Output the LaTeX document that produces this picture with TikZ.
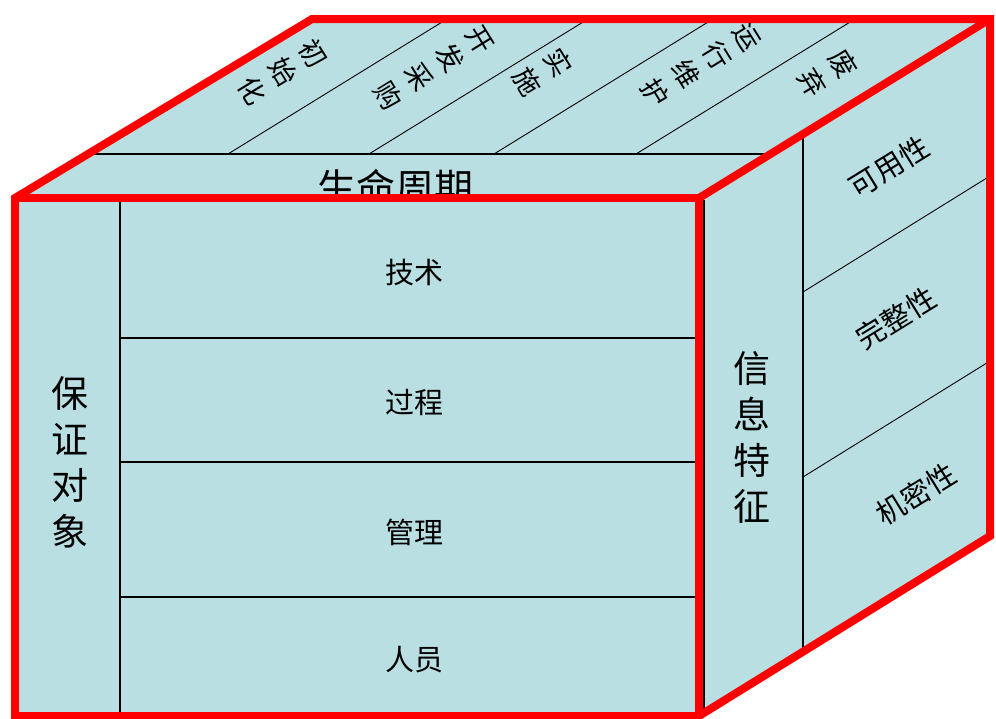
\documentclass[tikz,border=0pt]{standalone}
\usepackage{fontspec}
\newfontfamily\cjk{Noto Sans CJK SC}
\definecolor{facefill}{RGB}{185,223,226}
\definecolor{edgered}{RGB}{255,0,0}
\tikzset{
  face/.style={fill=facefill, draw=none},
  divider/.style={draw=black, line width=1.2},
  rededge/.style={draw=edgered, line width=8, line join=miter},
  toplabel/.style={font=\cjk\fontsize{27}{36}\selectfont, align=center, inner sep=0, rotate=-58.4},
  sidelabel/.style={font=\cjk\fontsize{29}{34}\selectfont, inner sep=0, rotate=31.6},
  frontlabel/.style={font=\cjk\fontsize{29}{34}\selectfont, inner sep=0},
  colabel/.style={font=\cjk\fontsize{37}{46}\selectfont, align=center, inner sep=0},
}
\begin{document}
\begin{tikzpicture}[x=1pt,y=-1pt]
\useasboundingbox (0,0) rectangle (996,718);
% corners
\coordinate (P1) at (15,198);
\coordinate (P2) at (699,198);
\coordinate (P3) at (312,19);
\coordinate (P4) at (990,19);
\coordinate (P5) at (990,536);
\coordinate (P6) at (699,716);
\coordinate (P7) at (15,716);
% ---- top face
\path[face] (P1) -- (P3) -- (P4) -- (P2) -- cycle;
\coordinate (b1) at (88,154);
\coordinate (b2) at (771,154);
\draw[divider] (b1) -- (b2);
\coordinate (t1a) at (228,154); \coordinate (t1b) at (447,19);
\coordinate (t2a) at (369,154); \coordinate (t2b) at (588,19);
\coordinate (t3a) at (494,154); \coordinate (t3b) at (713,19);
\coordinate (t4a) at (636,154); \coordinate (t4b) at (855,19);
\draw[divider, line width=0.9] (t1a) -- (t1b) (t2a) -- (t2b) (t3a) -- (t3b) (t4a) -- (t4b);
\node[toplabel] (init) at (283,72) {初\\始\\化};
\node[toplabel] (dev) at (434,68) {开\\发\\采\\购};
\node[toplabel] (impl) at (543,72) {实\\施};
\node[toplabel] (oper) at (701,65) {运\\行\\维\\护};
\node[toplabel] (disc) at (828,73) {废\\弃};
\node[font=\cjk\fontsize{39}{44}\selectfont, inner sep=0] (life) at (395,188) {生命周期};
% ---- right face
\path[face] (P2) -- (P4) -- (P5) -- (P6) -- cycle;
\coordinate (r0a) at (803,134); \coordinate (r0b) at (803,652);
\draw[divider] (r0a) -- (r0b);
\coordinate (r1a) at (803,292); \coordinate (r1b) at (990,176);
\coordinate (r2a) at (803,477); \coordinate (r2b) at (990,361);
\draw[divider, line width=0.9] (r1a) -- (r1b) (r2a) -- (r2b);
\coordinate (e1) at (704,200); \coordinate (e2) at (704,714);
\draw[divider] (e1) -- (e2);
\node[sidelabel] (avail) at (889,167) {可用性};
\node[sidelabel] (integ) at (896,318) {完整性};
\node[sidelabel] (conf) at (916,494) {机密性};
\node[colabel] (info) at (752,437) {信\\息\\特\\征};
% ---- front face
\path[face] (P1) -- (P2) -- (P6) -- (P7) -- cycle;
\coordinate (v1) at (120,198); \coordinate (v2) at (120,716);
\draw[divider] (v1) -- (v2);
\coordinate (h1a) at (120,338); \coordinate (h1b) at (699,338);
\coordinate (h2a) at (120,462); \coordinate (h2b) at (699,462);
\coordinate (h3a) at (120,597); \coordinate (h3b) at (699,597);
\draw[divider] (h1a) -- (h1b) (h2a) -- (h2b) (h3a) -- (h3b);
\node[frontlabel] (tech) at (414,272) {技术};
\node[frontlabel] (proc) at (414,402) {过程};
\node[frontlabel] (mgmt) at (414,532) {管理};
\node[frontlabel] (ppl) at (414,660) {人员};
\node[colabel] (obj) at (70,462) {保\\证\\对\\象};
% ---- red edges
\draw[rededge] (P7) -- (P1) -- (P3) -- (P4) -- (P5) -- (P6) -- cycle;
\draw[rededge] (P1) -- (P2) -- (P6);
\draw[rededge] (P2) -- (P4);
\end{tikzpicture}
\end{document}
